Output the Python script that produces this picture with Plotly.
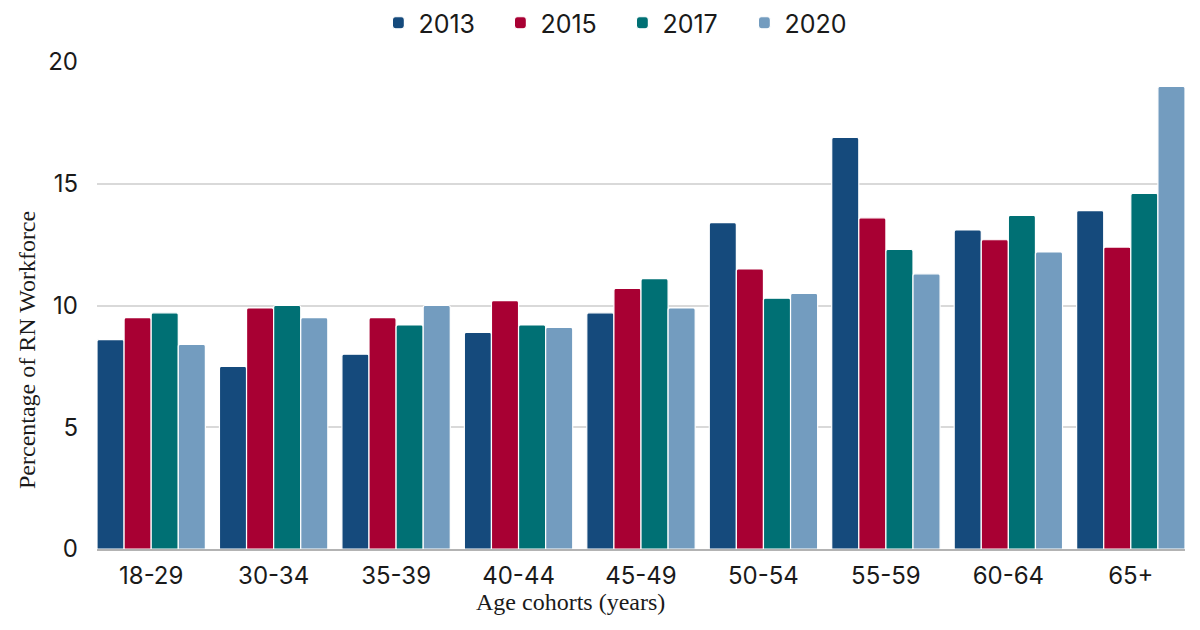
import plotly.graph_objects as go

# age cohorts and share of RN workforce (%) by survey year
cohorts = ["18-29", "30-34", "35-39", "40-44", "45-49", "50-54", "55-59", "60-64", "65+"]
years = ["2013", "2015", "2017", "2020"]
share_2013 = [8.6, 7.5, 8.0, 8.9, 9.7, 13.4, 16.9, 13.1, 13.9]
share_2015 = [9.5, 9.9, 9.5, 10.2, 10.7, 11.5, 13.6, 12.7, 12.4]
share_2017 = [9.7, 10.0, 9.2, 9.2, 11.1, 10.3, 12.3, 13.7, 14.6]
share_2020 = [8.4, 9.5, 10.0, 9.1, 9.9, 10.5, 11.3, 12.2, 19.0]
colors = ["#154a7c", "#a80033", "#007074", "#739cbf"]

bargap = 0.115
sans = "Inter, Open Sans, sans-serif"
serif = "Liberation Serif, serif"

fig = go.Figure()
for year, values, color in zip(years, [share_2013, share_2015, share_2017, share_2020], colors):
    fig.add_bar(
        x=cohorts,
        y=values,
        name=year,
        marker={"color": color, "line": {"color": "white", "width": 1.2}},
    )

# the page body adds an 8px offset, margins compensate for it
fig.update_layout(
    width=1200,
    height=630,
    barmode="group",
    bargap=bargap,
    bargroupgap=0.0,
    barcornerradius=2,
    plot_bgcolor="white",
    paper_bgcolor="white",
    margin={"l": 89, "r": 23, "t": 54, "b": 89, "autoexpand": False},
    font={"family": sans, "size": 24, "color": "#1a1a1a"},
    legend={
        "orientation": "h",
        "xref": "container",
        "yref": "container",
        "x": 0.512,
        "xanchor": "center",
        "y": 1 - 15 / 630,
        "yanchor": "middle",
        "font": {"size": 25},
        "entrywidth": 77,
        "traceorder": "normal",
    },
    showlegend=True,
)

fig.update_xaxes(
    range=[-0.5 + bargap / 2, len(cohorts) - 0.5 - bargap / 2],
    showline=True,
    linecolor="#b3b3b3",
    linewidth=2,
    ticks="",
    ticklabelstandoff=4,
    tickfont={"size": 24},
)
fig.update_yaxes(
    range=[0, 20],
    dtick=5,
    gridcolor="#d9d9d9",
    gridwidth=1.5,
    zeroline=False,
    ticklabelstandoff=18,
    tickfont={"size": 24},
)

# axis titles as annotations (offset from plot centre as in the source)
fig.add_annotation(
    text="Age cohorts (years)",
    xref="paper", yref="paper",
    x=(570 - 97) / 1088, y=(549 - 602) / 487,
    xanchor="center", yanchor="middle",
    showarrow=False,
    font={"family": serif, "size": 24, "color": "#1a1a1a"},
)
fig.add_annotation(
    text="Percentage of RN Workforce",
    xref="paper", yref="paper",
    x=(27 - 97) / 1088, y=(549 - 350) / 487,
    xanchor="center", yanchor="middle",
    textangle=-90,
    showarrow=False,
    font={"family": serif, "size": 24, "color": "#1a1a1a"},
)

fig.write_html("out.html")
